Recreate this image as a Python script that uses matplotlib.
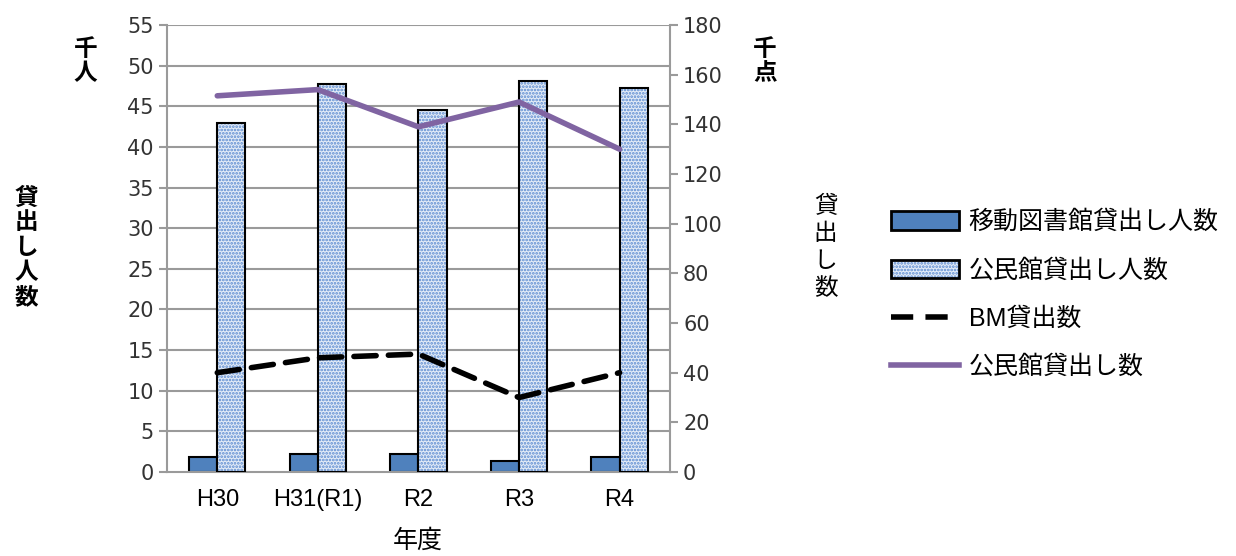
import numpy as np
import matplotlib
matplotlib.use("Agg")
import matplotlib.pyplot as plt
from matplotlib.patches import Patch
from matplotlib.lines import Line2D

plt.rcParams['font.family'] = ['Noto Sans CJK JP', 'DejaVu Sans']

# data
years = ['H30', 'H31(R1)', 'R2', 'R3', 'R4']
mobile_people = [1.9, 2.2, 2.2, 1.4, 1.9]        # 移動図書館貸出し人数 (千人)
public_people = [42.9, 47.8, 44.5, 48.1, 47.3]   # 公民館貸出し人数 (千人)
bm_loans = [40, 46, 47.5, 30, 40]                # BM貸出数 (千点)
public_loans = [151.5, 154, 139, 149, 130]       # 公民館貸出し数 (千点)

grid_c = '#9a9a9a'
x = np.arange(len(years))
w = 0.28
fs = 17
latin = ['Liberation Sans', 'Noto Sans CJK JP']

fig = plt.figure(figsize=(12.36, 5.56), dpi=100)
ax = fig.add_axes([0.1351, 0.151, 0.4069, 0.804])
ax2 = ax.twinx()

ax.set_zorder(1)
ax2.set_zorder(2)
ax.patch.set_visible(False)
ax2.patch.set_visible(False)

# gridlines
for v in range(5, 60, 5):
    ax.axhline(v, color=grid_c, lw=1.5, zorder=0)

ax.bar(x - w / 2, mobile_people, w, color='#4f81bd', edgecolor='black', lw=1.5, zorder=2)
# dotted pattern bars: fill + hatch, then black outline
plt.rcParams['hatch.linewidth'] = 1.3
ax.bar(x + w / 2, public_people, w, color='#e4ecf7', edgecolor='#5a8ad0',
       hatch='.....', lw=0, zorder=2)
ax.bar(x + w / 2, public_people, w, fill=False, edgecolor='black', lw=1.5, zorder=3)

ax2.plot(x, bm_loans, color='black', lw=4, dashes=(4, 2.2), solid_capstyle='round',
         dash_capstyle='round')
ax2.plot(x, public_loans, color='#8064a2', lw=4, solid_capstyle='round')

ax.set_xlim(-0.5, 4.5)
ax.set_ylim(0, 55)
ax2.set_ylim(0, 180)
ax.set_yticks(range(0, 60, 5))
ax2.set_yticks(range(0, 200, 20))
ax.set_xticks(x)
ax.set_xticklabels(years, fontfamily=latin, fontsize=fs)

for a in (ax, ax2):
    a.spines['top'].set_visible(False)
    for s in ('left', 'right', 'bottom'):
        a.spines[s].set_color(grid_c)
        a.spines[s].set_linewidth(1.5)
    a.tick_params(axis='y', colors=grid_c, labelcolor='#333333',
                  length=6, width=1.5, direction='out')
    for t in a.get_yticklabels():
        t.set_fontfamily('DejaVu Sans')
        t.set_fontsize(15)
ax.tick_params(axis='x', length=0, labelcolor='black', pad=12)
ax2.spines['left'].set_visible(False)
ax2.spines['bottom'].set_visible(False)
ax.spines['right'].set_visible(False)

# axis titles
fig.text(0.021, 0.555, '貸\n出\nし\n人\n数', fontsize=fs, fontweight='bold',
         ha='center', va='center', linespacing=1.05)
fig.text(0.069, 0.89, '千\n人', fontsize=fs, fontweight='bold',
         ha='center', va='center', linespacing=1.0)
fig.text(0.619, 0.89, '千\n点', fontsize=fs, fontweight='bold',
         ha='center', va='center', linespacing=1.0)
fig.text(0.668, 0.555, '貸\n出\nし\n数', fontsize=fs,
         ha='center', va='center', linespacing=1.25)
fig.text(0.338, 0.028, '年度', fontsize=18, ha='center', va='center')

outline = Patch(facecolor='none', edgecolor='black', lw=2)
handles = [
    Patch(facecolor='#4f81bd', edgecolor='black', lw=2),
    (Patch(facecolor='#e4ecf7', edgecolor='#5a8ad0', hatch='.....', lw=0), outline),
    Line2D([], [], color='black', lw=4, dashes=(4, 2.2)),
    Line2D([], [], color='#8064a2', lw=4),
]
labels = ['移動図書館貸出し人数', '公民館貸出し人数', 'BM貸出数', '公民館貸出し数']
fig.legend(handles, labels, loc='upper left', bbox_to_anchor=(0.7128, 0.64),
           frameon=False, handlelength=2.7, handleheight=0.75,
           labelspacing=0.97, handletextpad=0.4, borderaxespad=0,
           prop={'family': latin, 'size': 18})

fig.savefig('out.png', dpi=100)
